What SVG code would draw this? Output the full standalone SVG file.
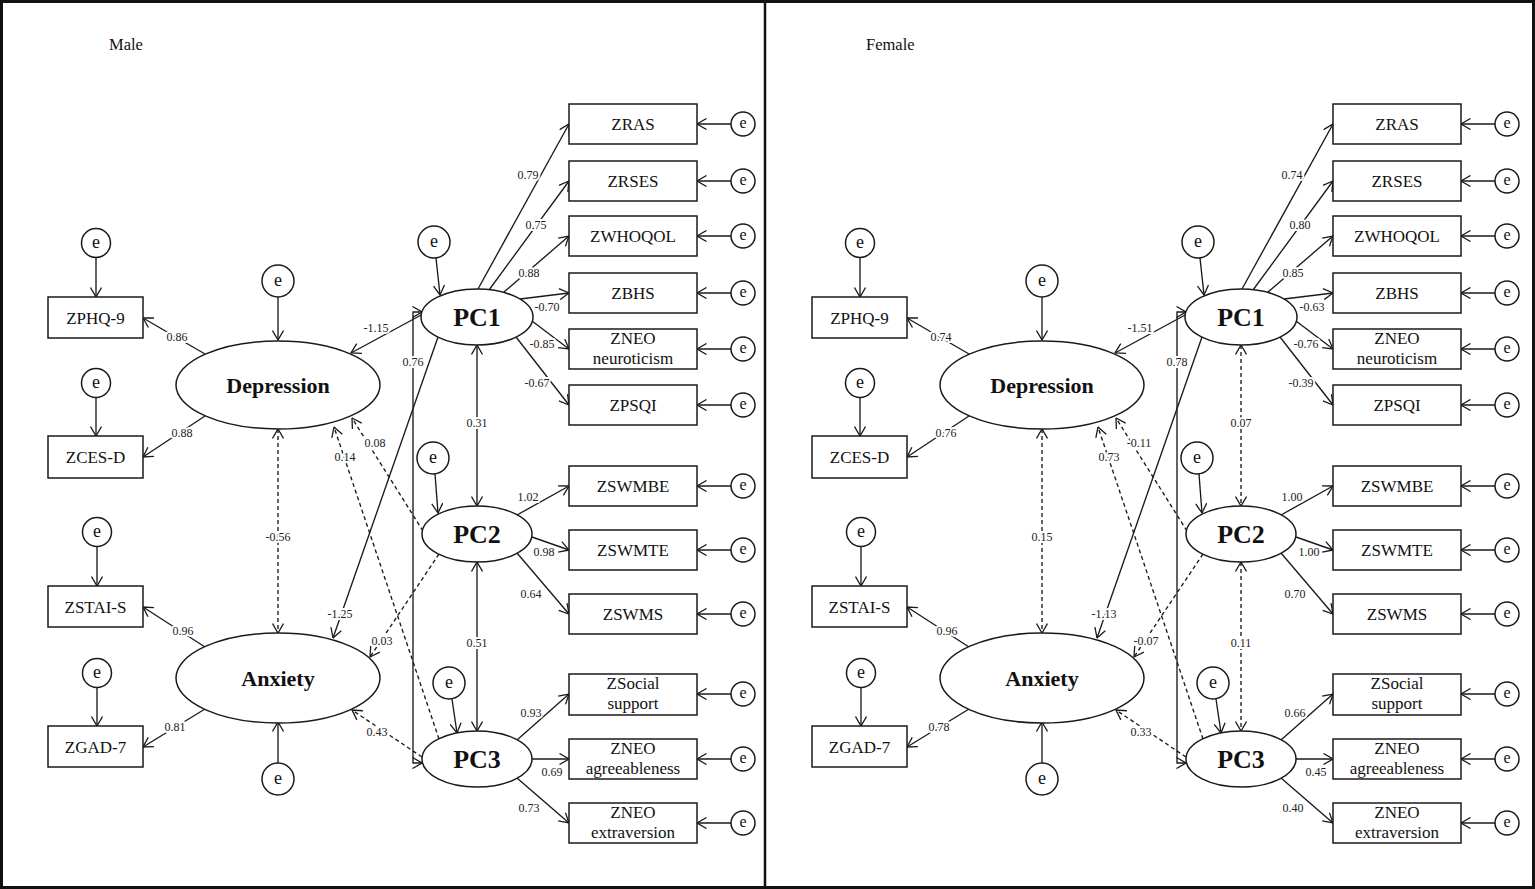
<svg xmlns="http://www.w3.org/2000/svg" width="1535" height="889" viewBox="0 0 1535 889">
<style>
.ln{fill:none;stroke:#1a1a1a;stroke-width:1.35}
.ds{stroke-dasharray:4 3}
.ar{marker-end:url(#ah)}
.dbl{marker-start:url(#ah);marker-end:url(#ah)}
.box{fill:#fff;stroke:#1a1a1a;stroke-width:1.5}
.ell{fill:#fff;stroke:#1a1a1a;stroke-width:1.5}
.t{font-family:"Liberation Serif","Times New Roman",serif;font-size:17px;text-anchor:middle;fill:#111}
.b{font-weight:bold}
.lat{font-size:22px}
.pc{font-size:26px}
.e{font-size:18px}
.es{font-size:16px}
.lab{font-family:"Liberation Serif","Times New Roman",serif;font-size:12px;text-anchor:middle;fill:#222;paint-order:stroke;stroke:#fff;stroke-width:4px;stroke-linejoin:round}
</style>
<defs>
<marker id="ah" viewBox="0 0 12 12" refX="11.5" refY="6" markerWidth="12" markerHeight="12" markerUnits="userSpaceOnUse" orient="auto-start-reverse">
<path d="M2 0.5 L11.5 6 L2 11.5" fill="none" stroke="#1a1a1a" stroke-width="1.3"/>
</marker>
</defs>
<rect x="0" y="0" width="1535" height="889" fill="#fff"/>
<g id="frame">
<rect x="1.5" y="1.5" width="1532" height="886" fill="none" stroke="#111" stroke-width="3"/>
<line x1="765" y1="0" x2="765" y2="889" stroke="#111" stroke-width="2.5"/>
</g>
<text class="t" x="109" y="50" style="text-anchor:start;font-size:16.5px">Male</text>
<text class="t" x="866" y="50" style="text-anchor:start;font-size:16.5px">Female</text>

<!-- ================= MALE ================= -->
<g id="male">
<g id="m-connectors">
<path class="ln ar" d="M96 257.5V297"/>
<path class="ln ar" d="M96 397.5V436"/>
<path class="ln ar" d="M97 546.5V586"/>
<path class="ln ar" d="M97 687.5V726"/>
<path class="ln ar" d="M278 297V340"/>
<path class="ln ar" d="M278 763V722"/>
<path class="ln ar" d="M436 258L440 295"/>
<path class="ln ar" d="M435 474L438 513"/>
<path class="ln ar" d="M452 699L457 733"/>
<path class="ln ar" d="M731 124H697"/>
<path class="ln ar" d="M731 181H697"/>
<path class="ln ar" d="M731 236H697"/>
<path class="ln ar" d="M731 293H697"/>
<path class="ln ar" d="M731 349H697"/>
<path class="ln ar" d="M731 405H697"/>
<path class="ln ar" d="M731 486H697"/>
<path class="ln ar" d="M731 550H697"/>
<path class="ln ar" d="M731 614H697"/>
<path class="ln ar" d="M731 694H697"/>
<path class="ln ar" d="M731 759H697"/>
<path class="ln ar" d="M731 823H697"/>
<path class="ln ar" d="M205 354L143 318"/>
<path class="ln ar" d="M205 416L143 457"/>
<path class="ln ar" d="M205 647L143 607"/>
<path class="ln ar" d="M205 709L143 747"/>
<path class="ln ar" d="M423 314L351 353"/>
<path class="ln ar" d="M438 337L333 638"/>
<path class="ln ds ar" d="M423 531L352 418"/>
<path class="ln ds ar" d="M439 739L334 427"/>
<path class="ln ds ar" d="M439 554L370 657"/>
<path class="ln ds ar" d="M422 757L352 710"/>
<path class="ln ds dbl" d="M278 429V633"/>
<path class="ln dbl" d="M477 345V506"/>
<path class="ln dbl" d="M477 562V731"/>
<path class="ln dbl" d="M422 312H413V763H422"/>
<path class="ln ar" d="M478 289L569 124"/>
<path class="ln ar" d="M489 290L569 181"/>
<path class="ln ar" d="M504 292L569 236"/>
<path class="ln ar" d="M520 299L569 293"/>
<path class="ln ar" d="M532 321L569 349"/>
<path class="ln ar" d="M516 337L569 405"/>
<path class="ln ar" d="M517 515L569 486"/>
<path class="ln ar" d="M532 537L569 550"/>
<path class="ln ar" d="M517 553L569 614"/>
<path class="ln ar" d="M517 740L569 694"/>
<path class="ln ar" d="M532 759L569 759"/>
<path class="ln ar" d="M517 778L569 823"/>
<text class="lab" x="177" y="341">0.86</text>
<text class="lab" x="182" y="437">0.88</text>
<text class="lab" x="183" y="635">0.96</text>
<text class="lab" x="175" y="731">0.81</text>
<text class="lab" x="278" y="541">-0.56</text>
<text class="lab" x="376" y="332">-1.15</text>
<text class="lab" x="413" y="366">0.76</text>
<text class="lab" x="375" y="447">0.08</text>
<text class="lab" x="345" y="461">0.14</text>
<text class="lab" x="340" y="618">-1.25</text>
<text class="lab" x="382" y="645">0.03</text>
<text class="lab" x="377" y="736">0.43</text>
<text class="lab" x="477" y="427">0.31</text>
<text class="lab" x="477" y="647">0.51</text>
<text class="lab" x="528" y="179">0.79</text>
<text class="lab" x="536" y="229">0.75</text>
<text class="lab" x="529" y="277">0.88</text>
<text class="lab" x="547" y="311">-0.70</text>
<text class="lab" x="542" y="348">-0.85</text>
<text class="lab" x="537" y="387">-0.67</text>
<text class="lab" x="528" y="501">1.02</text>
<text class="lab" x="544" y="556">0.98</text>
<text class="lab" x="531" y="598">0.64</text>
<text class="lab" x="531" y="717">0.93</text>
<text class="lab" x="552" y="776">0.69</text>
<text class="lab" x="529" y="812">0.73</text>
</g>
<g id="m-ZPHQ9"><rect class="box" x="48" y="297" width="95" height="41"/><text class="t" x="95.5" y="323.5">ZPHQ-9</text></g>
<g id="m-ZCESD"><rect class="box" x="48" y="436" width="95" height="42"/><text class="t" x="95.5" y="463">ZCES-D</text></g>
<g id="m-ZSTAIS"><rect class="box" x="48" y="586" width="95" height="41"/><text class="t" x="95.5" y="612.5">ZSTAI-S</text></g>
<g id="m-ZGAD7"><rect class="box" x="48" y="726" width="95" height="41"/><text class="t" x="95.5" y="752.5">ZGAD-7</text></g>
<g id="m-e1"><circle class="ell" cx="96" cy="243" r="14.5"/><text class="t e" x="96" y="247.5">e</text></g>
<g id="m-e2"><circle class="ell" cx="96" cy="383" r="14.5"/><text class="t e" x="96" y="387.5">e</text></g>
<g id="m-e3"><circle class="ell" cx="97" cy="532" r="14.5"/><text class="t e" x="97" y="536.5">e</text></g>
<g id="m-e4"><circle class="ell" cx="97" cy="673" r="14.5"/><text class="t e" x="97" y="677.5">e</text></g>
<g id="m-Depression"><ellipse class="ell" cx="278" cy="385" rx="102" ry="44"/><text class="t b lat" x="278" y="393">Depression</text></g>
<g id="m-Anxiety"><ellipse class="ell" cx="278" cy="678" rx="102" ry="45"/><text class="t b lat" x="278" y="686">Anxiety</text></g>
<g id="m-eDep"><circle class="ell" cx="278" cy="281" r="16"/><text class="t e" x="278" y="285.5">e</text></g>
<g id="m-eAnx"><circle class="ell" cx="278" cy="779" r="16"/><text class="t e" x="278" y="783.5">e</text></g>
<g id="m-PC1"><ellipse class="ell" cx="477" cy="317" rx="56" ry="28"/><text class="t b pc" x="477" y="326">PC1</text></g>
<g id="m-PC2"><ellipse class="ell" cx="477" cy="534" rx="55" ry="28"/><text class="t b pc" x="477" y="543">PC2</text></g>
<g id="m-PC3"><ellipse class="ell" cx="477" cy="759" rx="55" ry="28"/><text class="t b pc" x="477" y="768">PC3</text></g>
<g id="m-ePC1"><circle class="ell" cx="434" cy="242" r="16"/><text class="t e" x="434" y="246.5">e</text></g>
<g id="m-ePC2"><circle class="ell" cx="433" cy="458" r="16"/><text class="t e" x="433" y="462.5">e</text></g>
<g id="m-ePC3"><circle class="ell" cx="449" cy="683" r="16"/><text class="t e" x="449" y="687.5">e</text></g>
<g id="m-ZRAS"><rect class="box" x="569" y="104" width="128" height="40"/><text class="t" x="633" y="130">ZRAS</text></g>
<g id="m-ZRSES"><rect class="box" x="569" y="161" width="128" height="40"/><text class="t" x="633" y="187">ZRSES</text></g>
<g id="m-ZWHOQOL"><rect class="box" x="569" y="216" width="128" height="40"/><text class="t" x="633" y="242">ZWHOQOL</text></g>
<g id="m-ZBHS"><rect class="box" x="569" y="273" width="128" height="40"/><text class="t" x="633" y="299">ZBHS</text></g>
<g id="m-ZNEOn"><rect class="box" x="569" y="329" width="128" height="40"/><text class="t" x="633" y="344">ZNEO</text><text class="t" x="633" y="364">neuroticism</text></g>
<g id="m-ZPSQI"><rect class="box" x="569" y="385" width="128" height="40"/><text class="t" x="633" y="411">ZPSQI</text></g>
<g id="m-ZSWMBE"><rect class="box" x="569" y="466" width="128" height="40"/><text class="t" x="633" y="492">ZSWMBE</text></g>
<g id="m-ZSWMTE"><rect class="box" x="569" y="530" width="128" height="40"/><text class="t" x="633" y="556">ZSWMTE</text></g>
<g id="m-ZSWMS"><rect class="box" x="569" y="594" width="128" height="40"/><text class="t" x="633" y="620">ZSWMS</text></g>
<g id="m-ZSocial"><rect class="box" x="569" y="674" width="128" height="41"/><text class="t" x="633" y="689">ZSocial</text><text class="t" x="633" y="709">support</text></g>
<g id="m-ZNEOa"><rect class="box" x="569" y="739" width="128" height="40"/><text class="t" x="633" y="754">ZNEO</text><text class="t" x="633" y="774">agreeableness</text></g>
<g id="m-ZNEOe"><rect class="box" x="569" y="803" width="128" height="40"/><text class="t" x="633" y="818">ZNEO</text><text class="t" x="633" y="838">extraversion</text></g>
<g id="m-eR1"><circle class="ell" cx="743" cy="124" r="12"/><text class="t es" x="743" y="128">e</text></g>
<g id="m-eR2"><circle class="ell" cx="743" cy="181" r="12"/><text class="t es" x="743" y="185">e</text></g>
<g id="m-eR3"><circle class="ell" cx="743" cy="236" r="12"/><text class="t es" x="743" y="240">e</text></g>
<g id="m-eR4"><circle class="ell" cx="743" cy="293" r="12"/><text class="t es" x="743" y="297">e</text></g>
<g id="m-eR5"><circle class="ell" cx="743" cy="349" r="12"/><text class="t es" x="743" y="353">e</text></g>
<g id="m-eR6"><circle class="ell" cx="743" cy="405" r="12"/><text class="t es" x="743" y="409">e</text></g>
<g id="m-eR7"><circle class="ell" cx="743" cy="486" r="12"/><text class="t es" x="743" y="490">e</text></g>
<g id="m-eR8"><circle class="ell" cx="743" cy="550" r="12"/><text class="t es" x="743" y="554">e</text></g>
<g id="m-eR9"><circle class="ell" cx="743" cy="614" r="12"/><text class="t es" x="743" y="618">e</text></g>
<g id="m-eR10"><circle class="ell" cx="743" cy="694" r="12"/><text class="t es" x="743" y="698">e</text></g>
<g id="m-eR11"><circle class="ell" cx="743" cy="759" r="12"/><text class="t es" x="743" y="763">e</text></g>
<g id="m-eR12"><circle class="ell" cx="743" cy="823" r="12"/><text class="t es" x="743" y="827">e</text></g>
</g>

<!-- ================= FEMALE ================= -->
<g id="female" transform="translate(764,0)">
<g id="f-connectors">
<path class="ln ar" d="M96 257.5V297"/>
<path class="ln ar" d="M96 397.5V436"/>
<path class="ln ar" d="M97 546.5V586"/>
<path class="ln ar" d="M97 687.5V726"/>
<path class="ln ar" d="M278 297V340"/>
<path class="ln ar" d="M278 763V722"/>
<path class="ln ar" d="M436 258L440 295"/>
<path class="ln ar" d="M435 474L438 513"/>
<path class="ln ar" d="M452 699L457 733"/>
<path class="ln ar" d="M731 124H697"/>
<path class="ln ar" d="M731 181H697"/>
<path class="ln ar" d="M731 236H697"/>
<path class="ln ar" d="M731 293H697"/>
<path class="ln ar" d="M731 349H697"/>
<path class="ln ar" d="M731 405H697"/>
<path class="ln ar" d="M731 486H697"/>
<path class="ln ar" d="M731 550H697"/>
<path class="ln ar" d="M731 614H697"/>
<path class="ln ar" d="M731 694H697"/>
<path class="ln ar" d="M731 759H697"/>
<path class="ln ar" d="M731 823H697"/>
<path class="ln ar" d="M205 354L143 318"/>
<path class="ln ar" d="M205 416L143 457"/>
<path class="ln ar" d="M205 647L143 607"/>
<path class="ln ar" d="M205 709L143 747"/>
<path class="ln ar" d="M423 314L351 353"/>
<path class="ln ar" d="M438 337L333 638"/>
<path class="ln ds ar" d="M423 531L352 418"/>
<path class="ln ds ar" d="M439 739L334 427"/>
<path class="ln ds ar" d="M439 554L370 657"/>
<path class="ln ds ar" d="M422 757L352 710"/>
<path class="ln ds dbl" d="M278 429V633"/>
<path class="ln ds dbl" d="M477 345V506"/>
<path class="ln ds dbl" d="M477 562V731"/>
<path class="ln dbl" d="M422 312H413V763H422"/>
<path class="ln ar" d="M478 289L569 124"/>
<path class="ln ar" d="M489 290L569 181"/>
<path class="ln ar" d="M504 292L569 236"/>
<path class="ln ar" d="M520 299L569 293"/>
<path class="ln ar" d="M532 321L569 349"/>
<path class="ln ar" d="M516 337L569 405"/>
<path class="ln ar" d="M517 515L569 486"/>
<path class="ln ar" d="M532 537L569 550"/>
<path class="ln ar" d="M517 553L569 614"/>
<path class="ln ar" d="M517 740L569 694"/>
<path class="ln ar" d="M532 759L569 759"/>
<path class="ln ar" d="M517 778L569 823"/>
<text class="lab" x="177" y="341">0.74</text>
<text class="lab" x="182" y="437">0.76</text>
<text class="lab" x="183" y="635">0.96</text>
<text class="lab" x="175" y="731">0.78</text>
<text class="lab" x="278" y="541">0.15</text>
<text class="lab" x="376" y="332">-1.51</text>
<text class="lab" x="413" y="366">0.78</text>
<text class="lab" x="375" y="447">-0.11</text>
<text class="lab" x="345" y="461">0.73</text>
<text class="lab" x="340" y="618">-1.13</text>
<text class="lab" x="382" y="645">-0.07</text>
<text class="lab" x="377" y="736">0.33</text>
<text class="lab" x="477" y="427">0.07</text>
<text class="lab" x="477" y="647">0.11</text>
<text class="lab" x="528" y="179">0.74</text>
<text class="lab" x="536" y="229">0.80</text>
<text class="lab" x="529" y="277">0.85</text>
<text class="lab" x="548" y="311">-0.63</text>
<text class="lab" x="542" y="348">-0.76</text>
<text class="lab" x="537" y="387">-0.39</text>
<text class="lab" x="528" y="501">1.00</text>
<text class="lab" x="545" y="556">1.00</text>
<text class="lab" x="531" y="598">0.70</text>
<text class="lab" x="531" y="717">0.66</text>
<text class="lab" x="552" y="776">0.45</text>
<text class="lab" x="529" y="812">0.40</text>
</g>
<g id="f-ZPHQ9"><rect class="box" x="48" y="297" width="95" height="41"/><text class="t" x="95.5" y="323.5">ZPHQ-9</text></g>
<g id="f-ZCESD"><rect class="box" x="48" y="436" width="95" height="42"/><text class="t" x="95.5" y="463">ZCES-D</text></g>
<g id="f-ZSTAIS"><rect class="box" x="48" y="586" width="95" height="41"/><text class="t" x="95.5" y="612.5">ZSTAI-S</text></g>
<g id="f-ZGAD7"><rect class="box" x="48" y="726" width="95" height="41"/><text class="t" x="95.5" y="752.5">ZGAD-7</text></g>
<g id="f-e1"><circle class="ell" cx="96" cy="243" r="14.5"/><text class="t e" x="96" y="247.5">e</text></g>
<g id="f-e2"><circle class="ell" cx="96" cy="383" r="14.5"/><text class="t e" x="96" y="387.5">e</text></g>
<g id="f-e3"><circle class="ell" cx="97" cy="532" r="14.5"/><text class="t e" x="97" y="536.5">e</text></g>
<g id="f-e4"><circle class="ell" cx="97" cy="673" r="14.5"/><text class="t e" x="97" y="677.5">e</text></g>
<g id="f-Depression"><ellipse class="ell" cx="278" cy="385" rx="102" ry="44"/><text class="t b lat" x="278" y="393">Depression</text></g>
<g id="f-Anxiety"><ellipse class="ell" cx="278" cy="678" rx="102" ry="45"/><text class="t b lat" x="278" y="686">Anxiety</text></g>
<g id="f-eDep"><circle class="ell" cx="278" cy="281" r="16"/><text class="t e" x="278" y="285.5">e</text></g>
<g id="f-eAnx"><circle class="ell" cx="278" cy="779" r="16"/><text class="t e" x="278" y="783.5">e</text></g>
<g id="f-PC1"><ellipse class="ell" cx="477" cy="317" rx="56" ry="28"/><text class="t b pc" x="477" y="326">PC1</text></g>
<g id="f-PC2"><ellipse class="ell" cx="477" cy="534" rx="55" ry="28"/><text class="t b pc" x="477" y="543">PC2</text></g>
<g id="f-PC3"><ellipse class="ell" cx="477" cy="759" rx="55" ry="28"/><text class="t b pc" x="477" y="768">PC3</text></g>
<g id="f-ePC1"><circle class="ell" cx="434" cy="242" r="16"/><text class="t e" x="434" y="246.5">e</text></g>
<g id="f-ePC2"><circle class="ell" cx="433" cy="458" r="16"/><text class="t e" x="433" y="462.5">e</text></g>
<g id="f-ePC3"><circle class="ell" cx="449" cy="683" r="16"/><text class="t e" x="449" y="687.5">e</text></g>
<g id="f-ZRAS"><rect class="box" x="569" y="104" width="128" height="40"/><text class="t" x="633" y="130">ZRAS</text></g>
<g id="f-ZRSES"><rect class="box" x="569" y="161" width="128" height="40"/><text class="t" x="633" y="187">ZRSES</text></g>
<g id="f-ZWHOQOL"><rect class="box" x="569" y="216" width="128" height="40"/><text class="t" x="633" y="242">ZWHOQOL</text></g>
<g id="f-ZBHS"><rect class="box" x="569" y="273" width="128" height="40"/><text class="t" x="633" y="299">ZBHS</text></g>
<g id="f-ZNEOn"><rect class="box" x="569" y="329" width="128" height="40"/><text class="t" x="633" y="344">ZNEO</text><text class="t" x="633" y="364">neuroticism</text></g>
<g id="f-ZPSQI"><rect class="box" x="569" y="385" width="128" height="40"/><text class="t" x="633" y="411">ZPSQI</text></g>
<g id="f-ZSWMBE"><rect class="box" x="569" y="466" width="128" height="40"/><text class="t" x="633" y="492">ZSWMBE</text></g>
<g id="f-ZSWMTE"><rect class="box" x="569" y="530" width="128" height="40"/><text class="t" x="633" y="556">ZSWMTE</text></g>
<g id="f-ZSWMS"><rect class="box" x="569" y="594" width="128" height="40"/><text class="t" x="633" y="620">ZSWMS</text></g>
<g id="f-ZSocial"><rect class="box" x="569" y="674" width="128" height="41"/><text class="t" x="633" y="689">ZSocial</text><text class="t" x="633" y="709">support</text></g>
<g id="f-ZNEOa"><rect class="box" x="569" y="739" width="128" height="40"/><text class="t" x="633" y="754">ZNEO</text><text class="t" x="633" y="774">agreeableness</text></g>
<g id="f-ZNEOe"><rect class="box" x="569" y="803" width="128" height="40"/><text class="t" x="633" y="818">ZNEO</text><text class="t" x="633" y="838">extraversion</text></g>
<g id="f-eR1"><circle class="ell" cx="743" cy="124" r="12"/><text class="t es" x="743" y="128">e</text></g>
<g id="f-eR2"><circle class="ell" cx="743" cy="181" r="12"/><text class="t es" x="743" y="185">e</text></g>
<g id="f-eR3"><circle class="ell" cx="743" cy="236" r="12"/><text class="t es" x="743" y="240">e</text></g>
<g id="f-eR4"><circle class="ell" cx="743" cy="293" r="12"/><text class="t es" x="743" y="297">e</text></g>
<g id="f-eR5"><circle class="ell" cx="743" cy="349" r="12"/><text class="t es" x="743" y="353">e</text></g>
<g id="f-eR6"><circle class="ell" cx="743" cy="405" r="12"/><text class="t es" x="743" y="409">e</text></g>
<g id="f-eR7"><circle class="ell" cx="743" cy="486" r="12"/><text class="t es" x="743" y="490">e</text></g>
<g id="f-eR8"><circle class="ell" cx="743" cy="550" r="12"/><text class="t es" x="743" y="554">e</text></g>
<g id="f-eR9"><circle class="ell" cx="743" cy="614" r="12"/><text class="t es" x="743" y="618">e</text></g>
<g id="f-eR10"><circle class="ell" cx="743" cy="694" r="12"/><text class="t es" x="743" y="698">e</text></g>
<g id="f-eR11"><circle class="ell" cx="743" cy="759" r="12"/><text class="t es" x="743" y="763">e</text></g>
<g id="f-eR12"><circle class="ell" cx="743" cy="823" r="12"/><text class="t es" x="743" y="827">e</text></g>
</g>
</svg>
